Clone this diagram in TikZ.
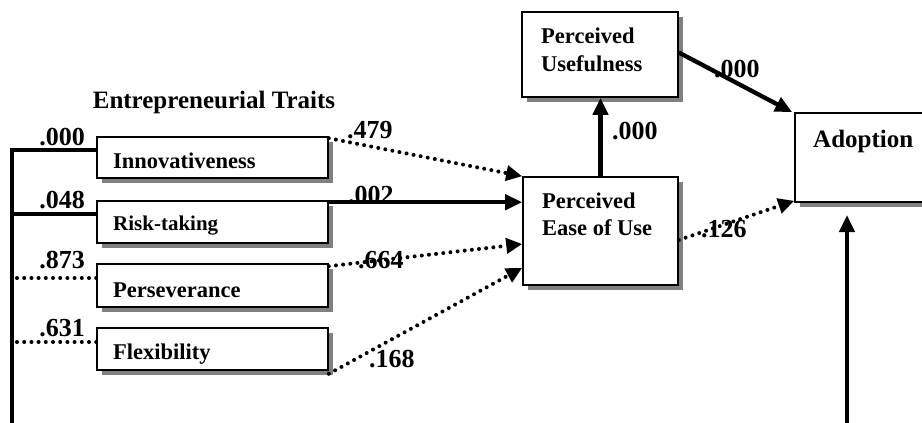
\documentclass[tikz,border=0pt]{standalone}
\usepackage{fontspec}
\setmainfont{Liberation Serif}
\usetikzlibrary{arrows.meta,shadows}
\begin{document}
\begin{tikzpicture}[x=1pt,y=-1pt,
  box/.style={draw=black, line width=1.6pt, fill=white, rectangle, inner sep=0pt,
    drop shadow={shadow xshift=5pt, shadow yshift=-5pt, fill=black!50, opacity=1}},
  lbl/.style={font=\bfseries\fontsize{22.5}{27}\selectfont, inner sep=0pt, anchor=base west},
  num/.style={font=\bfseries\fontsize{26}{28}\selectfont, inner sep=0pt, anchor=base west},
  solidline/.style={line width=3.2pt},
  dotline/.style={line width=4pt, line cap=round, dash pattern=on 0pt off 7.2pt},
  solidarrow/.style={line width=4.3pt, -{Triangle[length=17pt,width=15pt]}},
  dotarrow/.style={dotline, -{Triangle[length=16pt,width=15pt]}}
]
\useasboundingbox (0,0) rectangle (922,423);
\clip (0,0) rectangle (922,423);

% boxes
\node[box, minimum width=231pt, minimum height=41pt] (innov) at (212.5,157.5) {};
\node[box, minimum width=231pt, minimum height=42pt] (risk) at (212.5,222) {};
\node[box, minimum width=231pt, minimum height=43pt] (persev) at (212.5,285.5) {};
\node[box, minimum width=231pt, minimum height=42pt] (flex) at (212.5,349) {};
\node[box, minimum width=155pt, minimum height=108pt] (peou) at (600.5,231) {};
\node[box, minimum width=156pt, minimum height=85pt] (pu) at (600,54.5) {};
\node[box, minimum width=145pt, minimum height=89pt] (adopt) at (867.5,157.5) {};

% box texts
\node[lbl] (tinnov) at (113,168) {Innovativeness};
\node[lbl, font=\bfseries\fontsize{21}{27}\selectfont] (trisk) at (113,230) {Risk-taking};
\node[lbl] (tpersev) at (113,297) {Perseverance};
\node[lbl] (tflex) at (113,359) {Flexibility};
\node[lbl] (tpeou1) at (542,208) {Perceived};
\node[lbl] (tpeou2) at (542,235) {Ease of Use};
\node[lbl] (tpu1) at (541,43) {Perceived};
\node[lbl] (tpu2) at (541,71) {Usefulness};
\node[lbl, font=\bfseries\fontsize{25}{28}\selectfont] (tadopt) at (813,147) {Adoption};
\node[num, anchor=base, font=\bfseries\fontsize{25}{28}\selectfont] (ttraits) at (214,108) {Entrepreneurial Traits};

% coefficients
\node[num, anchor=base east] (c1) at (85,145) {.000};
\node[num, anchor=base east] (c2) at (85,208) {.048};
\node[num, anchor=base east] (c3) at (85,268) {.873};
\node[num, anchor=base east] (c4) at (85,336) {.631};
\node[num] (c5) at (347,138) {.479};
\node[num] (c6) at (348,203) {.002};
\node[num] (c7) at (358,268) {.664};
\node[num] (c8) at (369,367) {.168};
\node[num] (c9) at (612,139) {.000};
\node[num] (c10) at (714,77) {.000};
\node[num] (c11) at (701,237) {.126};

% left connectors
\coordinate (lt) at (12,150);
\coordinate (lb) at (12,430);
\coordinate (jr) at (12,214);
\coordinate (jp) at (17,278);
\coordinate (jf) at (17,342);
\draw[solidline] (lb) -- (lt) -- (innov.west |- lt);
\draw[solidline] (jr) -- (risk.west |- jr);
\draw[dotline] (jp) -- (persev.west |- jp);
\draw[dotline] (jf) -- (flex.west |- jf);

% paths to PEOU
\coordinate (r0) at ([yshift=-2pt]risk.north east);
\draw[dotarrow] ([yshift=-2pt]innov.north east) -- (peou.north west);
\draw[solidarrow] (r0) -- (peou.west |- r0);
\draw[dotarrow] ([yshift=-3pt]persev.north east) -- ([yshift=-13pt]peou.west);
\draw[dotarrow] ([yshift=-3pt]flex.south east) -- ([yshift=18pt]peou.south west);

% PEOU -> PU, PU -> Adoption, PEOU -> Adoption
\draw[solidarrow] (peou.north) -- (peou.north |- pu.south);
\draw[solidarrow] ([yshift=2pt]pu.east) -- ([xshift=-2pt]adopt.north west);
\draw[dotarrow] ([yshift=-9pt]peou.east) -- ([yshift=2pt]adopt.south west);

% bottom arrow into Adoption
\coordinate (bb) at (847,430);
\coordinate (bt) at (847,215);
\draw[solidarrow] (bb) -- (bt);
\end{tikzpicture}
\end{document}
